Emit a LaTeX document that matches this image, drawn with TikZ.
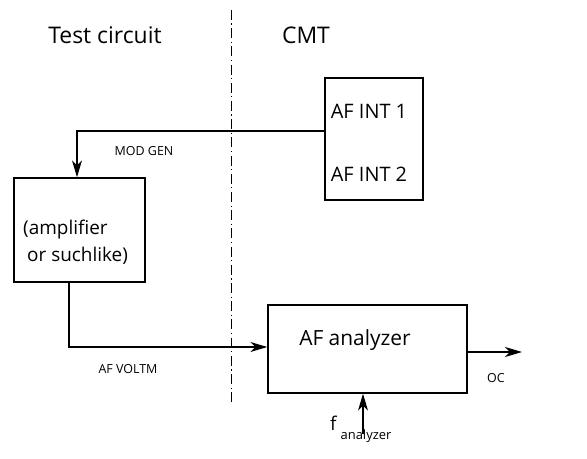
\documentclass[tikz,border=0pt]{standalone}
\usepackage{fontspec}
\setmainfont{Open Sans}
\usetikzlibrary{arrows.meta}
\begin{document}
\begin{tikzpicture}[x=1bp,y=-1bp,
  box/.style={draw,line width=1.4bp,inner sep=0pt},
  wire/.style={line width=1.2bp},
  arr/.style={-{Stealth[length=17bp,width=10bp,inset=5bp]}},
  lbl/.style={inner sep=0pt,font=\fontsize{12.5}{14}\selectfont},
  big/.style={inner sep=0pt,font=\fontsize{23}{27}\selectfont},
  mid/.style={inner sep=0pt,font=\fontsize{19}{22}\selectfont}]
\useasboundingbox (0,0) rectangle (587,459);
\node[big] (tc) at (105,35) {Test circuit};
\node[big] (cmt) at (306,35) {CMT};
\coordinate (dtop) at (231,10);
\coordinate (dbot) at (231,403);
\draw[line width=0.9bp,dash pattern=on 10bp off 3.5bp on 1.2bp off 3.5bp] (dtop) -- (dbot);
\node[box,minimum width=98bp,minimum height=122bp] (int) at (374,139) {};
\node[mid,font=\fontsize{20}{22}\selectfont] (int1) at (369,111) {AF INT 1};
\node[mid,font=\fontsize{20}{22}\selectfont] (int2) at (369,174) {AF INT 2};
\node[box,minimum width=131bp,minimum height=104bp] (amp) at (79.5,230) {};
\node[mid,anchor=west] (amp1) at (23,230) {(amplifier};
\node[mid,anchor=west] (amp2) at (27,256) {or suchlike)};
\node[box,minimum width=199bp,minimum height=88bp] (afa) at (367.5,349) {};
\node[big,font=\fontsize{21}{25}\selectfont] (afat) at (355,340) {AF analyzer};
\coordinate (a1) at (77,131);
\draw[wire,arr] (int.west |- a1) -- (a1) -- (a1 |- amp.north);
\node[lbl] (modgen) at (144,151) {MOD GEN};
\coordinate (a2) at (69,347);
\draw[wire,arr] (a2 |- amp.south) -- (a2) -- (afa.west |- a2);
\node[lbl] (afv) at (128,369) {AF VOLTM};
\coordinate (oc) at (522,352);
\draw[wire,arr] (afa.east |- oc) -- (oc);
\node[lbl] (oct) at (496,378) {OC};
\coordinate (fa) at (363,434);
\draw[wire,arr] (fa) -- (fa |- afa.south);
\node[mid,anchor=base west] (f) at (330,430) {f\hspace{4bp}\raisebox{-9bp}{\fontsize{13}{15}\selectfont analyzer}};
\end{tikzpicture}
\end{document}
